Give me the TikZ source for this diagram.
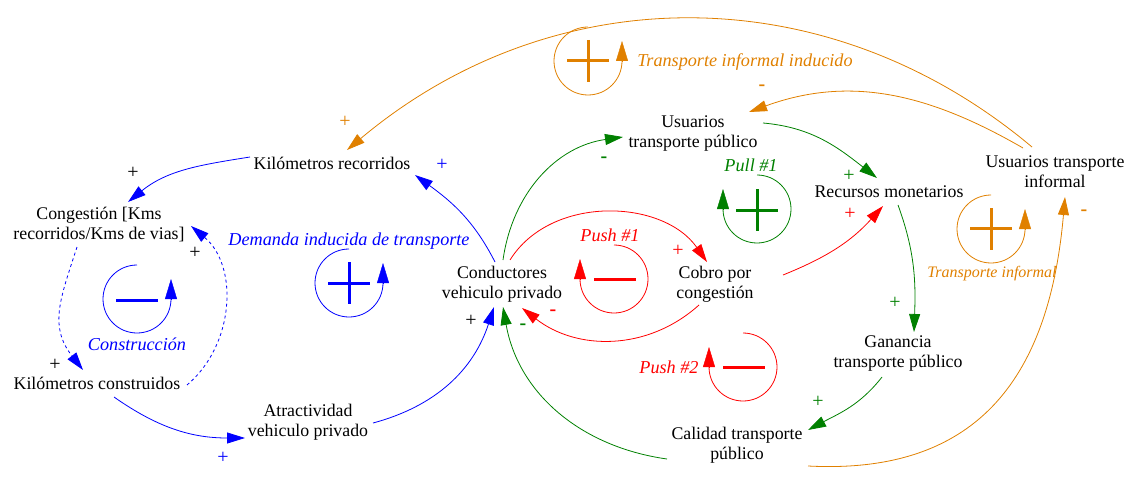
\documentclass[tikz,border=0pt]{standalone}
\usepackage{fontspec}
\setmainfont{Liberation Serif}
\usetikzlibrary{arrows.meta}
\definecolor{vorange}{RGB}{224,128,0}
\definecolor{vgreen}{RGB}{0,128,0}
\begin{document}
\begin{tikzpicture}[x=1pt,y=1pt,
    var/.style={align=center,inner sep=1pt,font=\fontsize{17.8}{20}\selectfont},
    looplabel/.style={font=\fontsize{18.2}{20}\selectfont\itshape},
    polarity/.style={inner sep=0pt,font=\fontsize{20}{20}\selectfont},
    link/.style={line width=0.8pt,-{Triangle[length=18pt,width=11pt]}},
    ring/.style={line width=0.8pt},
    looptip/.style={-{Triangle[length=20pt,width=12pt]}},
    loopsign/.style={line width=3pt}]
    \useasboundingbox (0,0) rectangle (1131,-481);
    % variables
    \node[var] (kmrec) at (332,-163) {Kilómetros recorridos};
    \node[var] (cong) at (99,-225) {Congestión [Kms\\recorridos/Kms de vias]};
    \node[var] (kmcon) at (97,-383) {Kilómetros construidos};
    \node[var] (atrac) at (308,-422) {Atractividad\\vehiculo privado};
    \node[var] (cond) at (502,-284) {Conductores\\vehiculo privado};
    \node[var] (cobro) at (715,-284) {Cobro por\\congestión};
    \node[var] (usupub) at (693,-134) {Usuarios\\transporte público};
    \node[var] (recur) at (889,-192) {Recursos monetarios};
    \node[var] (usuinf) at (1055,-172) {Usuarios transporte\\informal};
    \node[var] (ganan) at (898,-353) {Ganancia\\transporte público};
    \node[var] (calid) at (737,-445) {Calidad transporte\\público};
    % blue links
    \draw[link,blue] ([shift={(-82,6)}]kmrec.center) to[out=189,in=39] ([shift={(29,23)}]cong.center);
    \draw[link,blue] ([shift={(-7,22)}]cond.center) to[out=117,in=-36] ([shift={(83,-12)}]kmrec.center);
    \draw[link,blue,dash pattern=on 3pt off 3pt] ([shift={(-22,-22)}]cong.center) to[out=252,in=128,looseness=1.15] ([shift={(-14,13)}]kmcon.center);
    \draw[link,blue,dash pattern=on 3pt off 3pt] ([shift={(90,-2)}]kmcon.center) to[out=40,in=-40] ([shift={(92,-1)}]cong.center);
    \draw[link,blue] ([shift={(17,-14)}]kmcon.center) to[out=-35,in=180] ([shift={(-63,-16)}]atrac.center);
    \draw[link,blue] ([shift={(65,-1)}]atrac.center) to[out=15,in=252] ([shift={(-8,-23)}]cond.center);
    % green links
    \draw[link,vgreen] ([shift={(-70,-14)}]calid.center) to[out=172,in=-80] ([shift={(1,-23)}]cond.center);
    \draw[link,vgreen] ([shift={(1,24)}]cond.center) to[out=82,in=188] ([shift={(-70,-3)}]usupub.center);
    \draw[link,vgreen] ([shift={(70,11)}]usupub.center) to[out=-5,in=142] ([shift={(-12,14)}]recur.center);
    \draw[link,vgreen] ([shift={(9,-13)}]recur.center) to[out=-70,in=88] ([shift={(16,21)}]ganan.center);
    \draw[link,vgreen] ([shift={(-16,-24)}]ganan.center) to[out=232,in=28] ([shift={(71,15)}]calid.center);
    % red links
    \draw[link,red] ([shift={(8,24)}]cond.center) to[out=58,in=125] ([shift={(-8,22)}]cobro.center);
    \draw[link,red] ([shift={(-16,-21)}]cobro.center) to[out=222,in=-38] ([shift={(20,-24)}]cond.center);
    \draw[link,red] ([shift={(68,9)}]cobro.center) to[out=22,in=228] ([shift={(-6,-14)}]recur.center);
    % orange links
    \draw[link,vorange] ([shift={(71,-21)}]calid.center) to[out=-3,in=265,looseness=1.2] ([shift={(10,-25)}]usuinf.center);
    \draw[link,vorange] ([shift={(-32,24)}]usuinf.center) to[out=150,in=20] ([shift={(56,22)}]usupub.center);
    \draw[link,vorange] ([shift={(-23,25)}]usuinf.center) to[out=140,in=40] ([shift={(15,13)}]kmrec.center);
    % polarities
    \node[polarity] (pa) at (133,-173) {+};
    \node[polarity,blue] (pb) at (442,-165) {+};
    \node[polarity] (pc) at (55,-365) {+};
    \node[polarity] (pd) at (195,-253) {+};
    \node[polarity,blue] (pe) at (223,-458) {+};
    \node[polarity] (pf) at (471,-321) {+};
    \node[polarity,vgreen] (pg) at (523,-327) {\textbf{-}};
    \node[polarity,vgreen] (ph) at (604,-160) {\textbf{-}};
    \node[polarity,red] (pi) at (678,-251) {+};
    \node[polarity,red] (pj) at (553,-313) {\textbf{-}};
    \node[polarity,red] (pk) at (850,-214) {+};
    \node[polarity,vgreen] (pl) at (849,-176) {+};
    \node[polarity,vgreen] (pm) at (895,-303) {+};
    \node[polarity,vgreen] (pn) at (818,-402) {+};
    \node[polarity,vorange] (po) at (1084,-213) {\textbf{-}};
    \node[polarity,vorange] (pp) at (762,-88) {\textbf{-}};
    \node[polarity,vorange] (pq) at (345,-122) {+};
    % loops
    \draw[ring,blue] (137,-265) arc[start angle=90,end angle=360,radius=34];
    \draw[looptip,blue] (171,-299) -- ++(0,20);
    \draw[loopsign,blue] (116,-300) -- (158,-300);
    \node[looplabel,blue] (lconst) at (137,-344) {Construcción};
    \draw[ring,blue] (349,-249) arc[start angle=90,end angle=360,radius=34];
    \draw[looptip,blue] (383,-283) -- ++(0,20);
    \draw[loopsign,blue] (328,-283) -- (370,-283);
    \draw[loopsign,blue] (349,-262) -- (349,-304);
    \node[looplabel,blue] (ldem) at (349,-241) {Demanda inducida de transporte};
    \draw[ring,red] (614,-245) arc[start angle=90,end angle=-180,radius=34];
    \draw[looptip,red] (580,-279) -- ++(0,20);
    \draw[loopsign,red] (594,-279) -- (636,-279);
    \node[looplabel,red] (lpush1) at (610,-235) {Push \#1};
    \draw[ring,red] (743,-333) arc[start angle=90,end angle=-180,radius=34];
    \draw[looptip,red] (709,-367) -- ++(0,20);
    \draw[loopsign,red] (723,-367) -- (765,-367);
    \node[looplabel,red] (lpush2) at (669,-367) {Push \#2};
    \draw[ring,vgreen] (757,-175) arc[start angle=90,end angle=-180,radius=34];
    \draw[looptip,vgreen] (723,-209) -- ++(0,20);
    \draw[loopsign,vgreen] (736,-210) -- (778,-210);
    \draw[loopsign,vgreen] (757,-189) -- (757,-231);
    \node[looplabel,vgreen] (lpull) at (751,-165) {Pull \#1};
    \draw[ring,vorange] (991,-195) arc[start angle=90,end angle=360,radius=34];
    \draw[looptip,vorange] (1025,-229) -- ++(0,20);
    \draw[loopsign,vorange] (970,-228) -- (1012,-228);
    \draw[loopsign,vorange] (991,-208) -- (991,-250);
    \node[looplabel,vorange,font=\fontsize{16}{18}\selectfont\itshape] (linf) at (992,-274) {Transporte informal};
    \draw[ring,vorange] (588,-27) arc[start angle=90,end angle=360,radius=34];
    \draw[looptip,vorange] (622,-61) -- ++(0,20);
    \draw[loopsign,vorange] (567,-61) -- (609,-61);
    \draw[loopsign,vorange] (588,-40) -- (588,-82);
    \node[looplabel,vorange] (linfind) at (745,-62) {Transporte informal inducido};
\end{tikzpicture}
\end{document}
